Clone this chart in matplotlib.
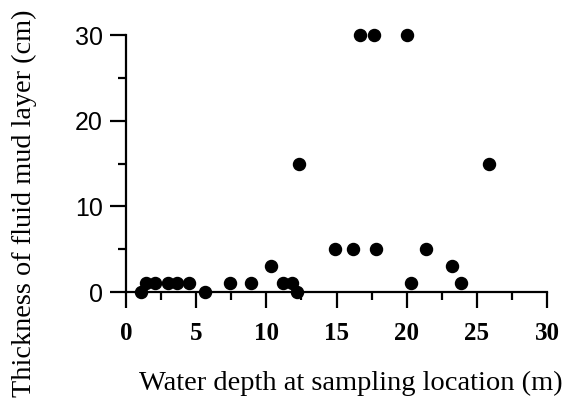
import matplotlib
matplotlib.use("Agg")
import matplotlib.pyplot as plt
from matplotlib.ticker import MultipleLocator

# Water depth (m) vs fluid mud thickness (cm)
depth = [1.1, 1.4, 2.1, 3.0, 3.6, 4.5, 5.6, 7.4, 8.9, 10.3, 11.2, 11.8,
         12.2, 12.3, 14.9, 16.2, 16.7, 17.7, 17.8, 20.0, 20.3, 21.4,
         23.2, 23.9, 25.9]
thickness = [0, 1, 1, 1, 1, 1, 0, 1, 1, 3, 1, 1,
             0, 15, 5, 5, 30, 30, 5, 30, 1, 5,
             3, 1, 15]

x_ticks = [0, 5, 10, 15, 20, 25, 30]
y_ticks = [0, 10, 20, 30]

fig = plt.figure(figsize=(5.71, 3.98), dpi=100)
ax = fig.add_axes([0.2207, 0.2663, 0.7373, 0.6457])

ax.scatter(depth, thickness, s=75, color="black", zorder=3, clip_on=False)

ax.set_xlim(0, 30)
ax.set_ylim(0, 30)
ax.set_xticks(x_ticks)
ax.set_yticks(y_ticks)
ax.xaxis.set_minor_locator(MultipleLocator(2.5))
ax.yaxis.set_minor_locator(MultipleLocator(5))

for side in ["top", "right"]:
    ax.spines[side].set_visible(False)
for side in ["left", "bottom"]:
    ax.spines[side].set_linewidth(1.6)
    ax.spines[side].set_color("black")

ax.tick_params(which="major", direction="out", length=11.5, width=1.6)
ax.tick_params(which="minor", direction="out", length=5.5, width=1.6)
ax.tick_params(axis="x", which="major", pad=10)
ax.tick_params(axis="y", which="major", pad=5)

for lab in ax.get_xticklabels():
    lab.set_fontfamily("Liberation Serif")
    lab.set_fontweight("bold")
    lab.set_fontsize(18)
for lab in ax.get_yticklabels():
    lab.set_fontfamily("Liberation Sans")
    lab.set_fontsize(18)

ax.set_xlabel("Water depth at sampling location (m)", family="Liberation Serif",
              fontsize=20.5)
ax.set_ylabel("Thickness of fluid mud layer (cm)", family="Liberation Serif",
              fontsize=20.3)
ax.xaxis.set_label_coords(0.534, -0.307)
ax.yaxis.set_label_coords(-0.211, 0.344)

fig.savefig("out.png", dpi=100)
